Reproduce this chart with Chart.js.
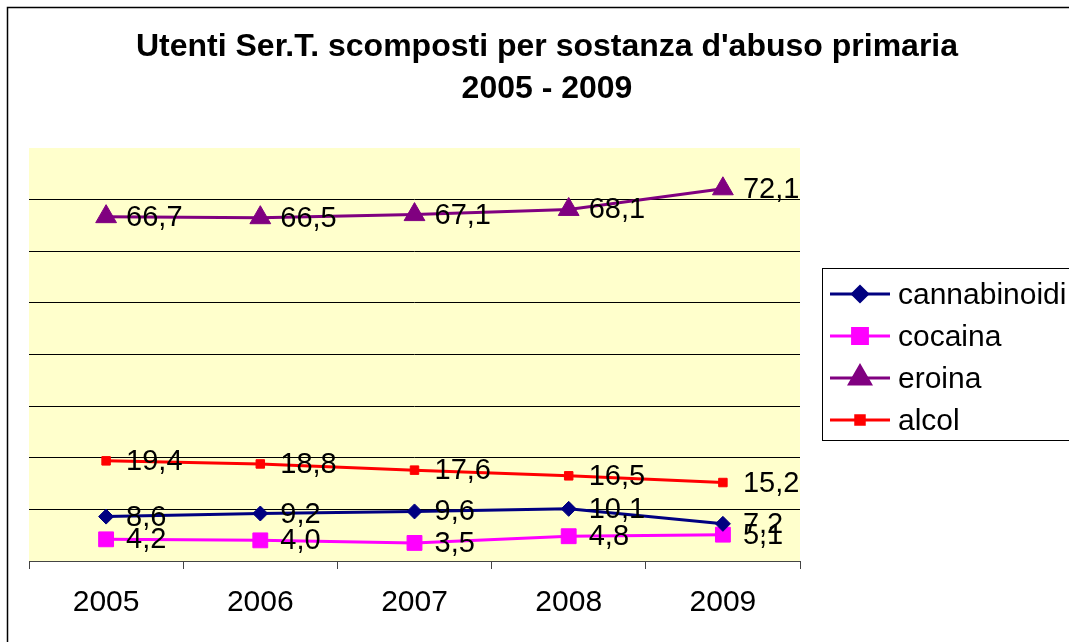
<!DOCTYPE html>
<html>
<head>
<meta charset="utf-8">
<script src="https://cdn.jsdelivr.net/npm/chart.js@4/dist/chart.umd.min.js"></script>
<style>
  html, body { margin: 0; padding: 0; background: #fff; }
  #wrap { width: 1069px; height: 642px; position: relative; }
</style>
</head>
<body>
<div id="wrap"><canvas id="grafico" width="1069" height="642"></canvas></div>
<script>
// dati
const anni = ['2005', '2006', '2007', '2008', '2009'];
const cannabinoidi = [8.6, 9.2, 9.6, 10.1, 7.2];
const cocaina = [4.2, 4.0, 3.5, 4.8, 5.1];
const eroina = [66.7, 66.5, 67.1, 68.1, 72.1];
const alcol = [19.4, 18.8, 17.6, 16.5, 15.2];
const titolo = ["Utenti Ser.T. scomposti per sostanza d'abuso primaria", '2005 - 2009'];

const FONT = '"Liberation Sans", Arial, sans-serif';

// sfondo giallo dell'area del grafico + bordo esterno
const sfondoPlugin = {
  id: 'sfondo',
  beforeDraw(chart) {
    const { ctx, chartArea: a } = chart;
    ctx.save();
    ctx.fillStyle = '#fff';
    ctx.fillRect(0, 0, chart.width, chart.height);
    ctx.fillStyle = '#FFFFCC';
    ctx.fillRect(a.left, a.top, a.right - a.left, a.bottom - a.top);
    ctx.strokeStyle = '#000';
    ctx.lineWidth = 1.5;
    ctx.beginPath();
    ctx.moveTo(7.5, chart.height + 2);
    ctx.lineTo(7.5, 7.5);
    ctx.lineTo(chart.width + 2, 7.5);
    ctx.stroke();
    ctx.restore();
  }
};

// etichette dei valori a destra dei punti
const etichettePlugin = {
  id: 'etichette',
  afterDatasetsDraw(chart) {
    const ctx = chart.ctx;
    ctx.save();
    ctx.font = '29px ' + FONT;
    ctx.fillStyle = '#000';
    ctx.textAlign = 'left';
    ctx.textBaseline = 'middle';
    chart.data.datasets.forEach((ds, i) => {
      chart.getDatasetMeta(i).data.forEach((pt, j) => {
        ctx.fillText(ds.data[j].toFixed(1).replace('.', ','), pt.x + 20, pt.y + 1);
      });
    });
    ctx.restore();
  }
};

// titolo e legenda disegnati a mano
const titoloLegendaPlugin = {
  id: 'titoloLegenda',
  afterDraw(chart) {
    const ctx = chart.ctx;
    ctx.save();
    ctx.font = 'bold 32px ' + FONT;
    ctx.fillStyle = '#000';
    ctx.textAlign = 'center';
    ctx.textBaseline = 'middle';
    ctx.fillText(titolo[0], 547, 47);
    ctx.fillText(titolo[1], 547, 89);

    // riquadro legenda
    ctx.strokeStyle = '#000';
    ctx.lineWidth = 1;
    ctx.strokeRect(822.5, 268.5, 260, 172);
    ctx.font = '30px ' + FONT;
    ctx.textAlign = 'left';
    const righe = [294, 336, 378, 420];
    chart.data.datasets.forEach((ds, i) => {
      const y = righe[i];
      ctx.strokeStyle = ds.borderColor;
      ctx.lineWidth = 3;
      ctx.beginPath();
      ctx.moveTo(830, y);
      ctx.lineTo(890, y);
      ctx.stroke();
      ctx.fillStyle = ds.pointBackgroundColor;
      ctx.strokeStyle = ds.pointBorderColor;
      Chart.helpers.drawPoint(ctx, {
        pointStyle: ds.pointStyle, radius: ds.pointRadius, borderWidth: 1, rotation: 0
      }, 860, y);
      ctx.fillStyle = '#000';
      ctx.fillText(ds.label, 898, y + 2);
    });
    ctx.restore();
  }
};

function serie(label, data, colore, stile, raggio) {
  return {
    label: label,
    data: data,
    borderColor: colore,
    backgroundColor: colore,
    pointBackgroundColor: colore,
    pointBorderColor: colore,
    pointStyle: stile,
    pointRadius: raggio,
    pointHoverRadius: raggio,
    pointBorderWidth: 1,
    borderWidth: 3,
    tension: 0
  };
}

new Chart(document.getElementById('grafico').getContext('2d'), {
  type: 'line',
  data: {
    labels: anni,
    datasets: [
      serie('cannabinoidi', cannabinoidi, '#000080', 'rectRot', 7.5),
      serie('cocaina', cocaina, '#FF00FF', 'rect', 10.5),
      serie('eroina', eroina, '#800080', 'triangle', 12),
      serie('alcol', alcol, '#FF0000', 'rect', 6)
    ]
  },
  options: {
    responsive: false,
    animation: false,
    layout: { padding: { left: 29, right: 269, top: 148, bottom: 5 } },
    plugins: {
      legend: { display: false },
      title: { display: false },
      tooltip: { enabled: false }
    },
    scales: {
      x: {
        offset: true,
        grid: {
          offset: true,
          drawOnChartArea: false,
          drawTicks: true,
          tickLength: 8,
          color: '#444'
        },
        border: { display: true, color: '#444', width: 1 },
        ticks: { font: { family: FONT, size: 30 }, color: '#000', padding: 16 }
      },
      y: {
        min: 0,
        max: 80,
        ticks: { stepSize: 10, display: false },
        grid: {
          drawTicks: false,
          color: ctx => (ctx.tick.value === 0 || ctx.tick.value === 80) ? 'rgba(0,0,0,0)' : '#000',
          lineWidth: 1
        },
        border: { display: false }
      }
    }
  },
  plugins: [sfondoPlugin, etichettePlugin, titoloLegendaPlugin]
});
</script>
</body>
</html>
